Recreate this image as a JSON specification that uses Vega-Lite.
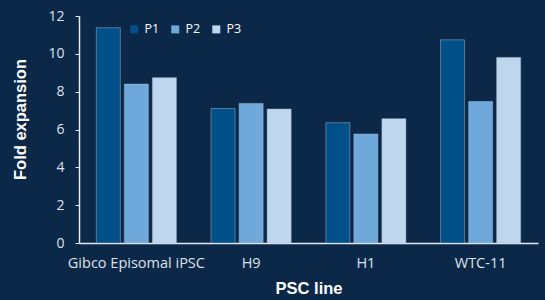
{
  "$schema": "https://vega.github.io/schema/vega-lite/v6.json",
  "autosize": "none",
  "width": 459,
  "height": 227,
  "padding": {"left": 79, "top": 16, "right": 7, "bottom": 57},
  "background": "#0c2848",
  "data": {"values": [
    {"line": "Gibco Episomal iPSC", "passage": "P1", "fold": 11.38},
    {"line": "Gibco Episomal iPSC", "passage": "P2", "fold": 8.40},
    {"line": "Gibco Episomal iPSC", "passage": "P3", "fold": 8.74},
    {"line": "H9", "passage": "P1", "fold": 7.11},
    {"line": "H9", "passage": "P2", "fold": 7.38},
    {"line": "H9", "passage": "P3", "fold": 7.08},
    {"line": "H1", "passage": "P1", "fold": 6.36},
    {"line": "H1", "passage": "P2", "fold": 5.76},
    {"line": "H1", "passage": "P3", "fold": 6.57},
    {"line": "WTC-11", "passage": "P1", "fold": 10.74},
    {"line": "WTC-11", "passage": "P2", "fold": 7.48},
    {"line": "WTC-11", "passage": "P3", "fold": 9.81}
  ]},
  "config": {
    "view": {"stroke": null},
    "font": "Liberation Sans"
  },
  "mark": {"type": "bar", "stroke": "#a9bdd2", "strokeWidth": 0.8, "strokeOpacity": 0.6},
  "encoding": {
    "x": {
      "field": "line", "type": "nominal", "sort": null,
      "scale": {"paddingInner": 0.268, "paddingOuter": 0.134},
      "axis": {
        "title": "PSC line", "titleColor": "#ffffff", "titleFontSize": 16.5, "titleFontWeight": "bold",
        "titleFont": "Liberation Sans", "titlePadding": 11,
        "labelAngle": 0, "labelColor": "#dde3ea", "labelFont": "Open Sans", "labelFontSize": 14.5,
        "labelPadding": 13, "ticks": false, "domainColor": "#e6ebf0", "domainWidth": 1.5, "grid": false
      }
    },
    "xOffset": {
      "field": "passage", "type": "nominal",
      "scale": {"paddingInner": 0.143, "paddingOuter": 0.07}
    },
    "y": {
      "field": "fold", "type": "quantitative",
      "scale": {"domain": [0, 12]},
      "axis": {
        "title": "Fold expansion", "titleColor": "#ffffff", "titleFontSize": 16.5, "titleFontWeight": "bold",
        "titleFont": "Liberation Sans", "titlePadding": 19, "titleY": 103,
        "values": [0, 2, 4, 6, 8, 10, 12], "labelColor": "#dde3ea", "labelFont": "Open Sans", "labelFontSize": 14,
        "labelPadding": 11, "tickSize": 4, "tickColor": "#e6ebf0", "domainColor": "#e6ebf0", "domainWidth": 1.5,
        "grid": false
      }
    },
    "color": {
      "field": "passage", "type": "nominal",
      "scale": {"domain": ["P1", "P2", "P3"], "range": ["#02508a", "#6fa9dc", "#bed7ee"]},
      "legend": {
        "title": null, "orient": "none", "direction": "horizontal", "legendX": 49, "legendY": 7,
        "symbolType": "square", "symbolSize": 64, "symbolStrokeWidth": 0,
        "labelColor": "#ffffff", "labelFont": "Open Sans", "labelFontSize": 12.5, "labelFontWeight": "normal",
        "columnPadding": 9, "labelOffset": 4
      }
    }
  }
}
